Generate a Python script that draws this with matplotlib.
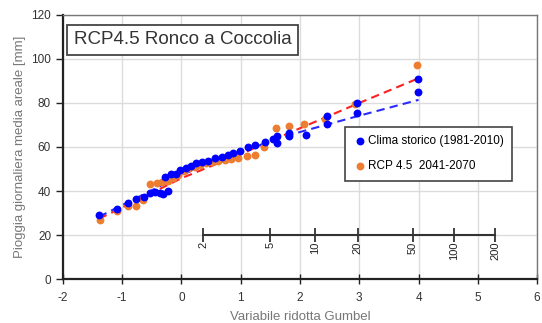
import numpy as np
import matplotlib
matplotlib.use("Agg")
import matplotlib.pyplot as plt

# ── Data ──────────────────────────────────────────────────────
# Gumbel reduced variate positions and daily rainfall [mm]
x_hist = [-1.39, -1.08, -0.90, -0.76, -0.63, -0.53, -0.45, -0.36, -0.31,
          -0.27, -0.23, -0.18, -0.10, -0.03, 0.08, 0.16, 0.25, 0.35, 0.45,
          0.57, 0.68, 0.79, 0.87, 0.99, 1.13, 1.24, 1.41, 1.55, 1.61, 1.61,
          1.82, 1.82, 2.10, 2.45, 2.45, 2.96, 2.96, 3.99, 3.99]
y_hist = [29.1, 32.0, 34.4, 36.2, 37.1, 39.0, 39.5, 39.0, 38.5,
          46.5, 40.0, 47.5, 47.8, 49.5, 50.3, 51.5, 52.5, 53.2, 53.8,
          54.9, 55.6, 56.4, 57.1, 58.3, 60.1, 60.9, 62.4, 63.5, 65.0, 61.7,
          66.5, 65.0, 65.5, 74.1, 70.5, 79.9, 75.3, 91.0, 85.0]

x_rcp = [-1.38, -1.09, -0.90, -0.76, -0.64, -0.53, -0.42, -0.32, -0.23,
         -0.14, -0.05, 0.04, 0.13, 0.23, 0.32, 0.42, 0.51, 0.62, 0.73,
         0.84, 0.96, 1.10, 1.24, 1.40, 1.59, 1.81, 2.07, 2.42, 2.93, 3.98]
y_rcp = [26.8, 31.0, 33.2, 33.3, 36.0, 43.3, 43.6, 44.0, 44.7,
         45.9, 47.2, 49.0, 50.3, 51.0, 51.8, 52.6, 53.0, 53.4, 54.0,
         54.5, 55.0, 55.9, 56.5, 60.0, 68.8, 69.5, 70.3, 72.6, 79.5, 97.1]

# fitted curves (dashed)
fit_x_hist = [-1.39, -1.0, -0.5, 0.0, 0.5, 1.0, 1.5, 2.0, 3.0, 4.0]
fit_y_hist = [28.3, 33.6, 40.3, 47.2, 53.0, 57.9, 62.5, 66.8, 74.2, 81.4]
fit_x_rcp = [-1.39, -1.0, 0.0, 1.0, 2.0, 3.0, 4.0]
fit_y_rcp = [27.4, 32.5, 45.8, 56.8, 68.5, 80.0, 91.2]

# return period axis
return_periods = [2, 5, 10, 20, 50, 100, 200]

title = "RCP4.5 Ronco a Coccolia"
label_hist = "Clima storico (1981-2010)"
label_rcp = "RCP 4.5  2041-2070"

# ── Style ─────────────────────────────────────────────────────
plt.rcParams.update({
    "font.family": "Liberation Sans",
    "axes.edgecolor": "#555",
    "axes.unicode_minus": False,
})

blue = "#0000ff"
orange = "#ed7d31"

fig = plt.figure(figsize=(5.42, 3.23), dpi=100)
ax = fig.add_axes([0.116, 0.136, 0.875, 0.818])

ax.set_xlim(-2, 6)
ax.set_ylim(0, 120)
ax.set_xticks(range(-2, 7))
ax.set_yticks(range(0, 121, 20))
ax.grid(True, color="#dcdcdc", linewidth=1)
ax.set_axisbelow(True)

for side in ["top", "right"]:
    ax.spines[side].set_color("#777")
    ax.spines[side].set_linewidth(1)
for side in ["left", "bottom"]:
    ax.spines[side].set_color("#222")
    ax.spines[side].set_linewidth(1.6)

ax.tick_params(axis="both", colors="#222", labelcolor="#333",
               labelsize=8.5, width=1, length=5, direction="out")
ax.tick_params(axis="x", direction="inout", length=7, pad=6)
ax.set_xlabel("Variabile ridotta Gumbel", color="#777", fontsize=9.5, labelpad=5)
ax.set_ylabel("Pioggia giornaliera media areale [mm]", color="#777",
              fontsize=9.5, labelpad=4)

# fitted lines
ax.plot(fit_x_rcp, fit_y_rcp, color="#ff2020", linestyle=(0, (4, 2.5)),
        linewidth=1.5, zorder=2)
ax.plot(fit_x_hist, fit_y_hist, color="#2a2aff", linestyle=(0, (4, 2.5)),
        linewidth=1.5, zorder=2)

# data points
ax.scatter(x_rcp, y_rcp, s=32, color=orange, zorder=3, label=label_rcp,
           linewidths=0)
ax.scatter(x_hist, y_hist, s=32, color=blue, zorder=4, label=label_hist,
           linewidths=0)

# return period axis at y = 20
T = np.array(return_periods, dtype=float)
t_pos = -np.log(-np.log(1 - 1 / T))
ax.plot([t_pos[0], t_pos[-1]], [20, 20], color="#333", linewidth=1.5, zorder=3)
ax.plot(t_pos, [20] * len(t_pos), linestyle="none", marker="|",
        markersize=10, markeredgewidth=1.3, color="#333", zorder=3)
for p, t in zip(t_pos, return_periods):
    ax.text(p, 17.0, str(t), rotation=90, ha="center", va="top",
            fontsize=8, color="#222", zorder=3)

# title box
ax.text(-1.82, 108.6, title, fontsize=13.5, color="#333", ha="left",
        va="center", zorder=5,
        bbox=dict(boxstyle="square,pad=0.35", facecolor="white",
                  edgecolor="#444", linewidth=1.3))

# legend
handles, labels = ax.get_legend_handles_labels()
leg = ax.legend(handles[::-1], labels[::-1], loc="upper left",
                bbox_to_anchor=(0.595, 0.575), fontsize=8.5, fancybox=False,
                framealpha=1, edgecolor="#444", handletextpad=0.05,
                borderpad=0.7, labelspacing=1.1, handlelength=1.2,
                borderaxespad=0)
leg.get_frame().set_linewidth(1.2)

plt.savefig("out.png", dpi=100, facecolor="white")
plt.close()
